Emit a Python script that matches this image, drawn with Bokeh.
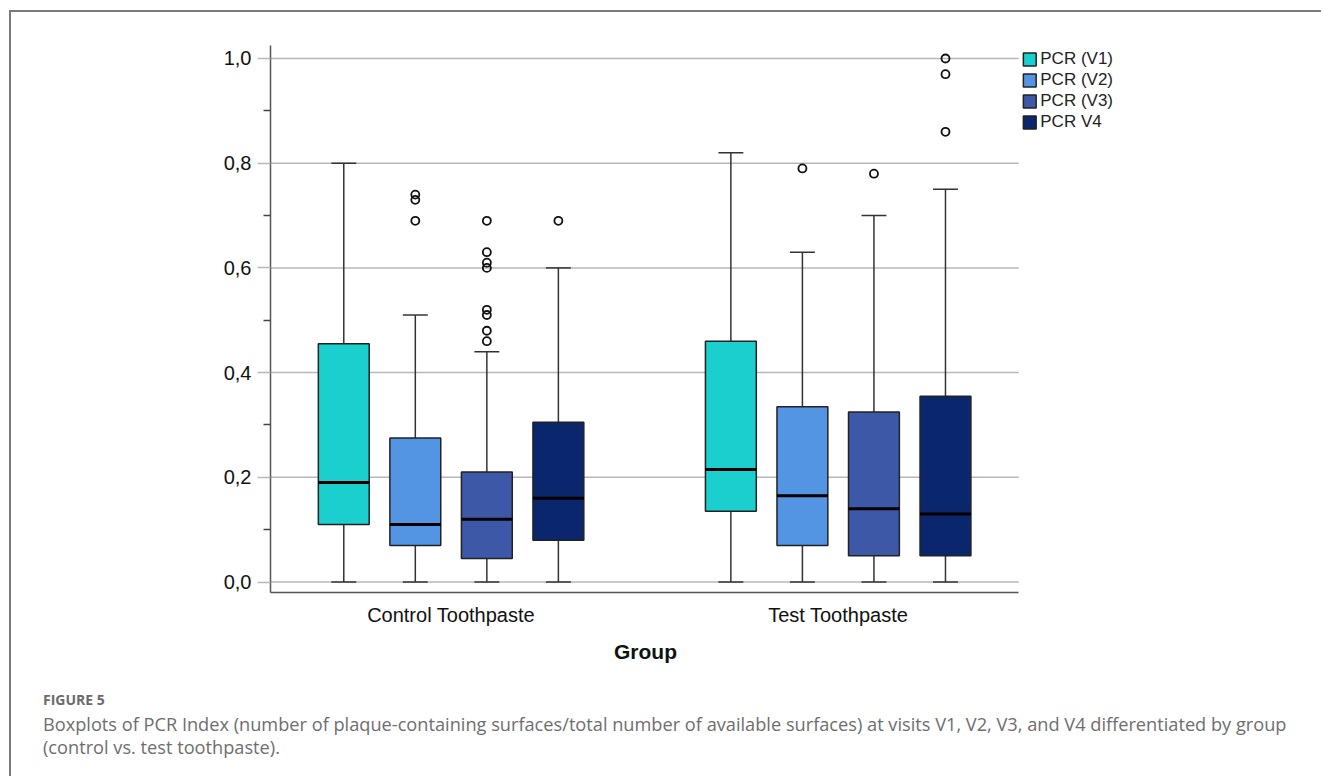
from bokeh.plotting import figure
from bokeh.layouts import column
from bokeh.models import (FixedTicker, Legend, LegendItem, Div, Title, CustomJSTickFormatter)
from bokeh.embed import file_html
from bokeh.resources import INLINE

# ---------------- data ----------------
groups = ["Control Toothpaste", "Test Toothpaste"]
series = ["PCR (V1)", "PCR (V2)", "PCR (V3)", "PCR V4"]
colors = ["#1bcfce", "#5394e3", "#3e58a8", "#0a266c"]

# rows: series V1..V4 ; columns: Control, Test
whisker_low = [[0.0, 0.0], [0.0, 0.0], [0.0, 0.0], [0.0, 0.0]]
q1 = [[0.11, 0.135], [0.07, 0.07], [0.045, 0.05], [0.08, 0.05]]
median = [[0.19, 0.215], [0.11, 0.165], [0.12, 0.14], [0.16, 0.13]]
q3 = [[0.455, 0.46], [0.275, 0.335], [0.21, 0.325], [0.305, 0.355]]
whisker_high = [[0.80, 0.82], [0.51, 0.63], [0.44, 0.70], [0.60, 0.75]]
outliers = [
    [[], []],
    [[0.74, 0.73, 0.69], [0.79]],
    [[0.69, 0.63, 0.61, 0.60, 0.52, 0.51, 0.48, 0.46], [0.78]],
    [[0.69], [1.0, 0.97, 0.86]],
]
y_ticks = [0.0, 0.2, 0.4, 0.6, 0.8, 1.0]
y_minor = [0.1, 0.3, 0.5, 0.7, 0.9]

x_title = "Group"
caption_title = "FIGURE 5"
caption_lines = [
    "Boxplots of PCR Index (number of plaque-containing surfaces/total number of "
    "available surfaces) at visits V1, V2, V3, and V4 differentiated by group",
    "(control vs. test toothpaste).",
]

# ---------------- layout constants ----------------
W, H = 1312, 662
x_start = -0.4665
x_plot_end = 1.4665     # where the drawn axis / grid lines stop
x_end = 1.7216          # frame extends further to host the legend
y_start, y_end = -0.020, 1.0248
B_LEFT, B_TOP, B_BOTTOM = 259, 33, 82
B_RIGHT = 204

slot = 0.1848      # distance between boxes within a group
box_w = 0.1314
cap_w = 0.0644
offsets = [(j - 1.5) * slot for j in range(len(series))]

p = figure(width=W, height=H,
           x_range=(x_start, x_end), y_range=(y_start, y_end),
           output_backend="svg", toolbar_location=None,
           min_border_left=B_LEFT, min_border_right=B_RIGHT,
           min_border_top=B_TOP, min_border_bottom=B_BOTTOM)
p.outline_line_color = None
p.background_fill_color = "white"
p.border_fill_color = "white"

# grid: drawn as horizontal lines limited to the plot area
p.xgrid.grid_line_color = None
p.ygrid.grid_line_color = None
p.segment(x0=[x_start] * len(y_ticks), x1=[x_plot_end] * len(y_ticks),
          y0=y_ticks, y1=y_ticks, line_color="#b8b8b8", line_width=1.5)

# y axis
p.yaxis.ticker = FixedTicker(ticks=y_ticks, minor_ticks=y_minor)
p.yaxis.formatter = CustomJSTickFormatter(code="return tick.toFixed(1).replace('.', ',');")
p.yaxis.axis_line_color = "#555555"
p.yaxis.axis_line_width = 1.5
p.yaxis.major_tick_in = 0
p.yaxis.major_tick_out = 13
p.yaxis.major_tick_line_color = "#b8b8b8"
p.yaxis.major_tick_line_width = 1.5
p.yaxis.minor_tick_in = 0
p.yaxis.minor_tick_out = 7
p.yaxis.minor_tick_line_color = "#444444"
p.yaxis.minor_tick_line_width = 1.5
p.yaxis.major_label_standoff = 6
p.yaxis.major_label_text_font = "Liberation Sans"
p.yaxis.major_label_text_font_size = "20px"
p.yaxis.major_label_text_color = "#111111"

# x axis
p.xaxis.ticker = FixedTicker(ticks=[0, 1])
p.xaxis.bounds = (x_start, x_plot_end)
p.xaxis.major_label_overrides = {i: g for i, g in enumerate(groups)}
p.xaxis.axis_line_color = "#555555"
p.xaxis.axis_line_width = 1.5
p.xaxis.major_tick_line_color = None
p.xaxis.minor_tick_line_color = None
p.xaxis.major_tick_out = 0
p.xaxis.major_tick_in = 0
p.xaxis.major_label_standoff = 11
p.xaxis.major_label_text_font = "Liberation Sans"
p.xaxis.major_label_text_font_size = "20px"
p.xaxis.major_label_text_color = "#111111"

# x-axis title, centred under the drawn plot area (not the wider frame)
xt = Title(text=x_title, align="left", offset=343.5, standoff=19,
           text_font="Liberation Sans", text_font_style="bold",
           text_font_size="21px", text_color="#111111")
p.add_layout(xt, "below")

legend_items = []
for j, name in enumerate(series):
    xs = [g + offsets[j] for g in range(len(groups))]
    lo = [whisker_low[j][g] for g in range(len(groups))]
    a = [q1[j][g] for g in range(len(groups))]
    m = [median[j][g] for g in range(len(groups))]
    b = [q3[j][g] for g in range(len(groups))]
    hi = [whisker_high[j][g] for g in range(len(groups))]
    # whiskers
    p.segment(x0=xs, x1=xs, y0=b, y1=hi, line_color="#333333", line_width=1.5)
    p.segment(x0=xs, x1=xs, y0=lo, y1=a, line_color="#333333", line_width=1.5)
    # caps
    p.segment(x0=[x - cap_w / 2 for x in xs], x1=[x + cap_w / 2 for x in xs],
              y0=hi, y1=hi, line_color="#333333", line_width=1.5)
    p.segment(x0=[x - cap_w / 2 for x in xs], x1=[x + cap_w / 2 for x in xs],
              y0=lo, y1=lo, line_color="#333333", line_width=1.5)
    # boxes
    r = p.vbar(x=xs, width=box_w, bottom=a, top=b, fill_color=colors[j],
               line_color="#222222", line_width=1.5)
    # medians
    p.segment(x0=[x - box_w / 2 for x in xs], x1=[x + box_w / 2 for x in xs],
              y0=m, y1=m, line_color="#000000", line_width=3)
    # outliers
    ox, oy = [], []
    for g in range(len(groups)):
        for v in outliers[j][g]:
            ox.append(xs[g])
            oy.append(v)
    if ox:
        p.scatter(x=ox, y=oy, size=8, marker="circle", fill_color=None,
                  line_color="#111111", line_width=1.8)
    legend_items.append(LegendItem(label=name, renderers=[r]))

legend = Legend(items=legend_items, location="top_right")
legend.border_line_color = None
legend.background_fill_color = None
legend.padding = 0
legend.margin = 4
legend.spacing = 1
legend.glyph_width = 16
legend.glyph_height = 16
legend.label_standoff = 3
legend.label_text_font = "Liberation Sans"
legend.label_text_font_size = "17px"
legend.label_text_color = "#222222"
p.add_layout(legend)

# ---------------- caption ----------------
cap_html = (
    '<div style="position:relative;width:1300px;height:100px;'
    "font-family:'Open Sans';white-space:nowrap;\">"
    '<div style="position:absolute;left:32px;top:16px;line-height:20px;'
    'font-size:14px;font-weight:bold;color:#6b6b6b;">' + caption_title + '</div>'
    '<div style="position:absolute;left:32px;top:40px;line-height:20px;'
    'font-size:18.2px;color:#6e6e6e;">' + caption_lines[0] + '</div>'
    '<div style="position:absolute;left:32px;top:63px;line-height:20px;'
    'font-size:18.2px;color:#6e6e6e;">' + caption_lines[1] + '</div>'
    '</div>'
)
cap = Div(text=cap_html, width=1310, height=104, margin=0)

layout = column(p, cap, spacing=0, margin=(10, 0, 0, 9), width=1312, height=766,
                styles={"border-top": "2px solid #7a7a7a",
                        "border-left": "2px solid #7a7a7a",
                        "overflow": "hidden"})

open("out.html", "w").write(file_html(layout, INLINE))
